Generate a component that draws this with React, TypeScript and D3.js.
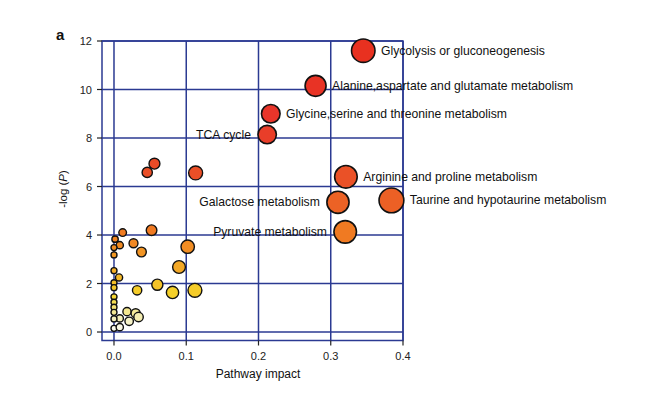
import React from "react";
import * as d3 from "d3";

// Labeled pathways
const pathwayNames = [
  "Glycolysis or gluconeogenesis",
  "Alanine,aspartate and glutamate metabolism",
  "Glycine,serine and threonine metabolism",
  "TCA cycle",
  "Arginine and proline metabolism",
  "Galactose metabolism",
  "Taurine and hypotaurine metabolism",
  "Pyruvate metabolism",
];
const pathwayImpact = [0.345, 0.279, 0.217, 0.212, 0.321, 0.31, 0.384, 0.32];
const pathwayLogP = [11.6, 10.15, 9.0, 8.14, 6.4, 5.35, 5.43, 4.13];
const labelSide = ["right", "right", "right", "left", "right", "left", "right", "left"];

// Unlabeled pathways
const otherImpact = [
  0.056, 0.046, 0.113, 0.012, 0.052, 0.0015, 0.008, 0.0, 0.0, 0.027, 0.038,
  0.102, 0.09, 0.0, 0.007, 0.0, 0.0, 0.032, 0.06, 0.081, 0.112, 0.0, 0.0,
  0.0, 0.0, 0.018, 0.03, 0.034, 0.021, 0.008, 0.0, 0.0, 0.008,
];
const otherLogP = [
  6.94, 6.58, 6.56, 4.1, 4.2, 3.83, 3.58, 3.48, 3.18, 3.66, 3.3,
  3.52, 2.68, 2.53, 2.25, 2.03, 1.83, 1.72, 1.95, 1.63, 1.72, 1.45, 1.23,
  1.02, 0.81, 0.84, 0.77, 0.62, 0.44, 0.56, 0.54, 0.15, 0.2,
];

const xTicks = [0, 0.1, 0.2, 0.3, 0.4];
const yTicks = [0, 2, 4, 6, 8, 10, 12];

const colorStops = [0, 0.6, 1.5, 2.5, 4, 6, 9, 12];
const colorRange = ["#ffffff", "#f4eeb4", "#f5d52a", "#f3ae26", "#f07d22", "#ea5526", "#e8352a", "#e8301e"];

export default function App() {
  const W = 650, H = 398;
  const x = d3.scaleLinear().domain([-0.0166, 0.4]).range([102, 403]);
  const y = d3.scaleLinear().domain([-0.35, 12]).range([340.5, 41]);
  const r = d3.scalePow().exponent(0.7).domain([0, 0.384]).range([3, 12.4]);
  const color = d3.scaleLinear<string>().domain(colorStops).range(colorRange).interpolate(d3.interpolateRgb);

  const grid = "#2b3a92";
  const font = "'Liberation Sans', Arial, Helvetica, sans-serif";

  const others = otherImpact.map((v, i) => ({ ix: v, lp: otherLogP[i] }));
  const named = pathwayNames.map((n, i) => ({ name: n, ix: pathwayImpact[i], lp: pathwayLogP[i], side: labelSide[i] }));

  const [x0, x1] = x.range();
  const [yb, yt] = y.range();

  return (
    <svg width={W} height={H} style={{ position: "absolute", left: 0, top: 0, background: "#fff" }} fontFamily={font}>
      <rect width={W} height={H} fill="#fff" />
      {/* grid */}
      {xTicks.map((t) => (
        <line key={"gx" + t} x1={x(t)} x2={x(t)} y1={yt} y2={yb} stroke={grid} strokeWidth={1.5} />
      ))}
      {yTicks.map((t) => (
        <line key={"gy" + t} x1={x0} x2={x1} y1={y(t)} y2={y(t)} stroke={grid} strokeWidth={1.5} />
      ))}
      <rect x={x0} y={yt} width={x1 - x0} height={yb - yt} fill="none" stroke={grid} strokeWidth={1.5} />
      {/* ticks */}
      {xTicks.map((t) => (
        <g key={"tx" + t}>
          <line x1={x(t)} x2={x(t)} y1={yb} y2={yb + 5} stroke="#222" strokeWidth={1.2} />
          <text x={x(t)} y={360} textAnchor="middle" fontSize={11} fill="#222">{d3.format(".1f")(t)}</text>
        </g>
      ))}
      {yTicks.map((t) => (
        <g key={"ty" + t}>
          <line x1={x0 - 5} x2={x0} y1={y(t)} y2={y(t)} stroke="#222" strokeWidth={1.2} />
          <text x={92} y={y(t) + 4} textAnchor="end" fontSize={11} fill="#222">{t}</text>
        </g>
      ))}
      <text x={258} y={378} textAnchor="middle" fontSize={12} fill="#111">Pathway impact</text>
      <text transform={`translate(67,189) rotate(-90)`} textAnchor="middle" fontSize={11.5} fill="#111">
        -log (<tspan fontStyle="italic">P</tspan>)
      </text>
      <text x={56} y={40} fontSize={15} fontWeight="bold" fill="#111">a</text>
      {/* points */}
      {others.map((d, i) => (
        <circle key={"o" + i} cx={x(d.ix)} cy={y(d.lp)} r={r(d.ix)} fill={color(d.lp)} stroke="#111" strokeWidth={1.4} />
      ))}
      {named.map((d, i) => (
        <circle key={"n" + i} cx={x(d.ix)} cy={y(d.lp)} r={r(d.ix)} fill={color(d.lp)} stroke="#111" strokeWidth={1.6} />
      ))}
      {named.map((d, i) => {
        const cx = x(d.ix), rr = r(d.ix);
        const right = d.side === "right";
        return (
          <text key={"l" + i} x={right ? cx + rr + 6 : cx - rr - 7} y={y(d.lp) + 4} textAnchor={right ? "start" : "end"} fontSize={12.2} fill="#111">
            {d.name}
          </text>
        );
      })}
    </svg>
  );
}
